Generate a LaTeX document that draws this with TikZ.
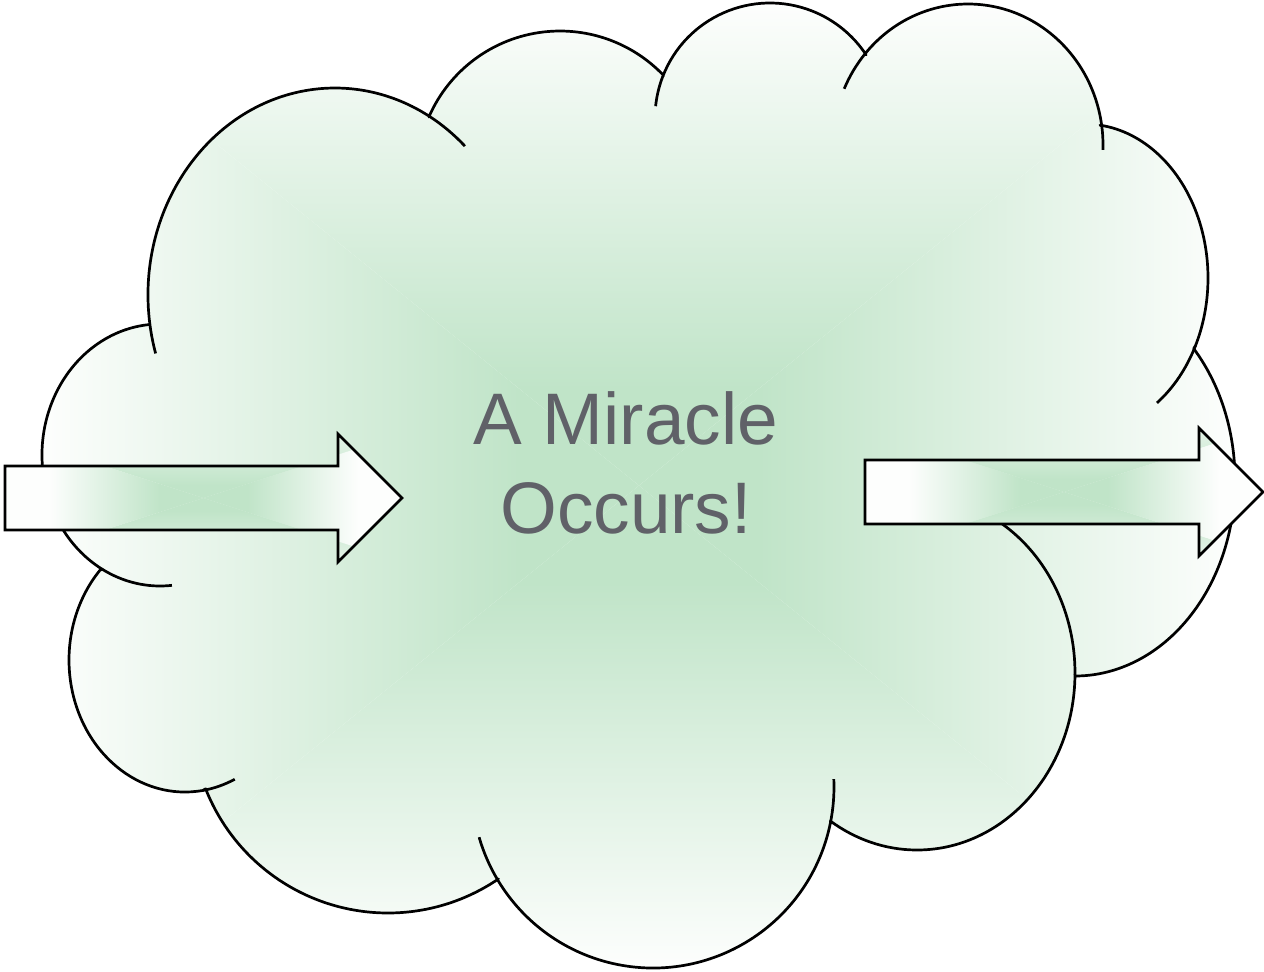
\documentclass[tikz,border=0pt]{standalone}
\usepackage{fontspec}
\setmainfont{Liberation Sans}
\usetikzlibrary{calc}

\definecolor{cloudgreen}{RGB}{192,228,200}
\definecolor{cloudwhite}{RGB}{253,254,253}
\definecolor{textgray}{RGB}{96,97,104}

% box gradients: green in the middle, white at the edge of the box
\pgfdeclareverticalshading{cloudv}{100bp}{color(0bp)=(cloudgreen); color(35bp)=(cloudgreen); color(75bp)=(cloudwhite); color(100bp)=(cloudwhite)}
\pgfdeclarehorizontalshading{cloudh}{100bp}{color(0bp)=(cloudgreen); color(35bp)=(cloudgreen); color(75bp)=(cloudwhite); color(100bp)=(cloudwhite)}
\pgfdeclareverticalshading{arrowv}{100bp}{color(0bp)=(cloudgreen); color(35bp)=(cloudgreen); color(100bp)=(cloudwhite)}
\pgfdeclarehorizontalshading{arrowh}{100bp}{color(0bp)=(cloudgreen); color(36bp)=(cloudgreen); color(64bp)=(cloudwhite); color(100bp)=(cloudwhite)}

% four shaded triangles meeting in the centre of the box
\newcommand{\boxshade}[4]{%
  \coordinate (bs-nw) at #1;
  \coordinate (bs-se) at #2;
  \coordinate (bs-c) at ($(bs-nw)!0.5!(bs-se)$);
  \shade[shading=#3] (bs-c) -- (bs-nw) -- (bs-nw -| bs-se) -- cycle;
  \shade[shading=#3, shading angle=180] (bs-c) -- (bs-se) -- (bs-se -| bs-nw) -- cycle;
  \shade[shading=#4] (bs-c) -- (bs-nw -| bs-se) -- (bs-se) -- cycle;
  \shade[shading=#4, shading angle=180] (bs-c) -- (bs-se -| bs-nw) -- (bs-nw) -- cycle;
}

\begin{document}
\begin{tikzpicture}[
    x=0.5pt, y=-0.5pt,
    cloudline/.style={draw=black, line width=1.35pt, line join=round},
    blockarrow/.style={draw=black, line width=1.35pt},
    miracle/.style={font=\fontsize{36.5}{44.5}\selectfont, text=textgray, align=center, inner sep=0pt}
  ]
  \useasboundingbox (0,0) rectangle (1264,971);

  % cloud outline, one lobe after the other
  \path[save path=\cloudpath]
    ($(335,295)+(172:187 and 207)$) arc[start angle=172, end angle=300.3, x radius=187, y radius=207]
    -- ($(560,174)+(203.5:143 and 143)$) arc[start angle=203.5, end angle=316.4, radius=143]
    -- ($(770,118)+(201.4:115 and 115)$) arc[start angle=201.4, end angle=326.7, radius=115]
    -- ($(968,145)+(220.2:135 and 141)$) arc[start angle=220.2, end angle=352.2, x radius=135, y radius=141]
    -- ($(1085,278)+(277:123 and 154)$) arc[start angle=277, end angle=386.1, x radius=123, y radius=154]
    -- ($(1075,480)+(317.9:160 and 196)$) arc[start angle=317.9, end angle=450, x radius=160, y radius=196]
    -- ($(917,673)+(0.6:158 and 177)$) arc[start angle=0.6, end angle=123.2, x radius=158, y radius=177]
    -- ($(653,787)+(11.5:181 and 181)$) arc[start angle=11.5, end angle=149.3, radius=181]
    -- ($(388,717)+(55.7:196 and 196)$) arc[start angle=55.7, end angle=158.5, radius=196]
    -- ($(185,660)+(81.1:116 and 132)$) arc[start angle=81.1, end angle=223, x radius=116, y radius=132]
    -- ($(160,455)+(119.2:118 and 131)$) arc[start angle=119.2, end angle=264.7, x radius=118, y radius=131]
    -- cycle;

  \begin{scope}
    \clip[use path=\cloudpath];
    \boxshade{(42,3)}{(1236,968)}{cloudv}{cloudh}
  \end{scope}
  \path[cloudline, use path=\cloudpath];

  % short arcs running on inside the cloud
  \draw[cloudline] ($(335,295)+(172:187 and 207)$) arc[start angle=172, end angle=163.6, x radius=187, y radius=207];
  \draw[cloudline] ($(335,295)+(300.3:187 and 207)$) arc[start angle=300.3, end angle=314, x radius=187, y radius=207];
  \draw[cloudline] ($(770,118)+(201.4:115 and 115)$) arc[start angle=201.4, end angle=185.9, radius=115];
  \draw[cloudline] ($(968,145)+(220.2:135 and 141)$) arc[start angle=220.2, end angle=203.5, x radius=135, y radius=141];
  \draw[cloudline] ($(968,145)+(352.2:135 and 141)$) arc[start angle=352.2, end angle=362, x radius=135, y radius=141];
  \draw[cloudline] ($(1085,278)+(386.1:123 and 154)$) arc[start angle=386.1, end angle=414.2, x radius=123, y radius=154];
  \draw[cloudline] ($(917,673)+(0.6:158 and 177)$) arc[start angle=0.6, end angle=-60, x radius=158, y radius=177];
  \draw[cloudline] ($(653,787)+(11.5:181 and 181)$) arc[start angle=11.5, end angle=-2.5, radius=181];
  \draw[cloudline] ($(653,787)+(149.3:181 and 181)$) arc[start angle=149.3, end angle=163.9, radius=181];
  \draw[cloudline] ($(185,660)+(81.1:116 and 132)$) arc[start angle=81.1, end angle=64.6, x radius=116, y radius=132];
  \draw[cloudline] ($(160,455)+(119.2:118 and 131)$) arc[start angle=119.2, end angle=84.2, x radius=118, y radius=131];

  % input arrow
  \path[save path=\inarrow] (5,466) -- (338,466) -- (338,434) -- (402,498) -- (338,562) -- (338,530) -- (5,530) -- cycle;
  \begin{scope}
    \clip[use path=\inarrow];
    \boxshade{(5,434)}{(402,562)}{arrowv}{arrowh}
  \end{scope}
  \path[blockarrow, use path=\inarrow];

  % output arrow
  \path[save path=\outarrow] (865,460) -- (1199,460) -- (1199,428) -- (1263,492) -- (1199,556) -- (1199,524) -- (865,524) -- cycle;
  \begin{scope}
    \clip[use path=\outarrow];
    \boxshade{(865,428)}{(1263,556)}{arrowv}{arrowh}
  \end{scope}
  \path[blockarrow, use path=\outarrow];

  \node[miracle] (miracle) at (626,463) {A Miracle\\Occurs!};
\end{tikzpicture}
\end{document}
